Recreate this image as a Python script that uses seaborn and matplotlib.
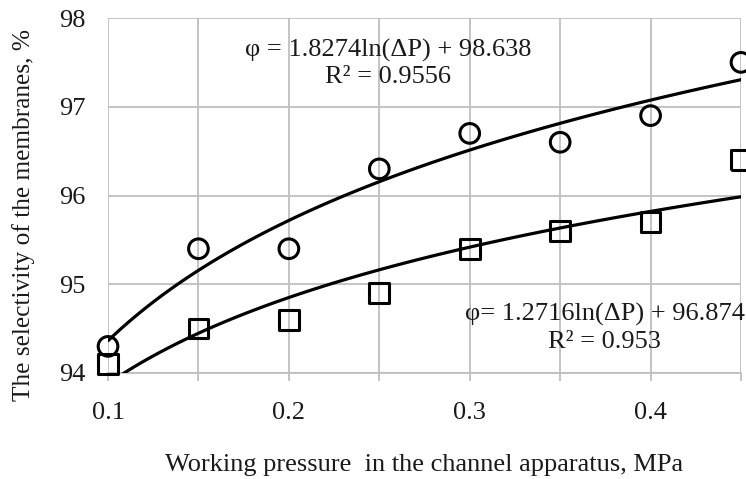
import numpy as np
import pandas as pd
import matplotlib
matplotlib.use("Agg")
import matplotlib.pyplot as plt
import seaborn as sns

# Working pressure, MPa
pressure = [0.10, 0.15, 0.20, 0.25, 0.30, 0.35, 0.40, 0.45]
# Selectivity of the membranes, %
selectivity_circle = [94.3, 95.4, 95.4, 96.3, 96.7, 96.6, 96.9, 97.5]
selectivity_square = [94.1, 94.5, 94.6, 94.9, 95.4, 95.6, 95.7, 96.4]

x_ticks = [0.1, 0.2, 0.3, 0.4]
x_grid = [0.10, 0.15, 0.20, 0.25, 0.30, 0.35, 0.40, 0.45]
y_ticks = [94, 95, 96, 97, 98]

eq_upper = ["φ = 1.8274ln(ΔP) + 98.638", "R² = 0.9556"]
eq_lower = ["φ= 1.2716ln(ΔP) + 96.874", "R² = 0.953"]

df = pd.DataFrame({
    "p": pressure,
    "circle": selectivity_circle,
    "square": selectivity_square,
})

sns.set_theme(style="white")
plt.rcParams["font.family"] = ["Liberation Serif", "DejaVu Serif"]

fig = plt.figure(figsize=(7.46, 4.79), dpi=100)
ax = fig.add_axes([0.1448, 0.2213, 0.8485, 0.7411])

grid_color = "#bfbfbf"
text_color = "#1a1a1a"
fs = 19

# logarithmic trend lines
for col in ["circle", "square"]:
    sns.regplot(data=df, x="p", y=col, logx=True, ci=None, scatter=False,
                ax=ax, color="black", line_kws={"lw": 2.3, "zorder": 3})

# measured points
sns.scatterplot(data=df, x="p", y="circle", ax=ax, marker="o", s=200,
                facecolor="none", edgecolor="black", linewidth=2.2,
                zorder=4, clip_on=False)
sns.scatterplot(data=df, x="p", y="square", ax=ax, marker="s", s=200,
                facecolor="none", edgecolor="black", linewidth=2.2,
                zorder=4, clip_on=False)

ax.set_xlim(0.1, 0.45)
ax.set_ylim(94, 98)
ax.set_xticks(x_grid, minor=True)
ax.set_xticks(x_ticks)
ax.set_xticklabels([f"{t:.1f}" for t in x_ticks])
ax.set_yticks(y_ticks)
ax.set_yticklabels([str(t) for t in y_ticks])

ax.grid(False)
for xv in x_grid:
    ax.axvline(xv, color=grid_color, lw=1.3, zorder=1)
for yv in y_ticks:
    ax.axhline(yv, color=grid_color, lw=1.3, zorder=1)

for side in ["top", "right", "left"]:
    ax.spines[side].set_visible(False)
ax.spines["bottom"].set_color(grid_color)
ax.spines["bottom"].set_linewidth(1.3)

ax.tick_params(axis="x", which="both", direction="out", length=6,
               width=1.3, color=grid_color, labelsize=fs, pad=15,
               bottom=True)
ax.tick_params(axis="y", which="both", length=0, labelsize=fs, pad=16)
for lab in ax.get_xticklabels() + ax.get_yticklabels():
    lab.set_color(text_color)

ax.set_xlabel("Working pressure  in the channel apparatus, MPa",
              fontsize=fs, color=text_color)
ax.xaxis.set_label_coords(0.5, -0.258)
ax.xaxis.label.set_va("center")
ax.set_ylabel("The selectivity of the membranes, %", fontsize=18.3,
              color=text_color)
ax.yaxis.set_label_coords(-0.133, 0.445)
ax.yaxis.label.set_va("center")

ax.text(0.442, 0.872, "\n".join(eq_upper),
        transform=ax.transAxes, ha="center", va="center",
        fontsize=fs, linespacing=1.28, color=text_color, zorder=5)
ax.text(0.785, 0.126, "\n".join(eq_lower),
        transform=ax.transAxes, ha="center", va="center",
        fontsize=fs, linespacing=1.28, color=text_color, zorder=5)

fig.savefig("out.png", dpi=100)
